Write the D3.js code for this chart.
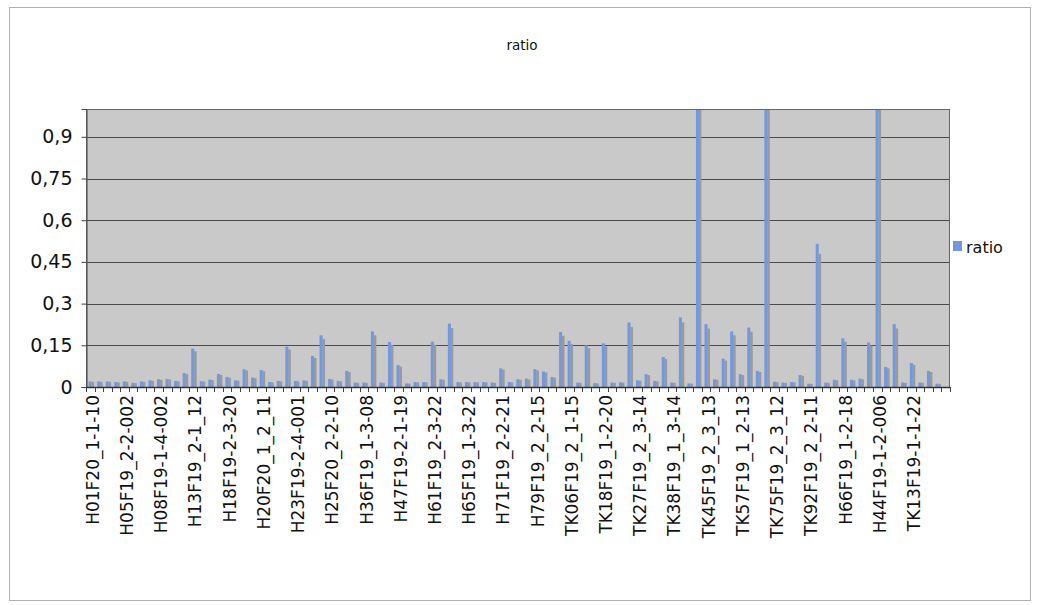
<!DOCTYPE html>
<html><head><meta charset="utf-8">
<script src="https://cdn.jsdelivr.net/npm/d3@7"></script>
<style>body{margin:0;background:#fff}svg{display:block}</style>
</head><body>
<svg id="c" width="1039" height="605"></svg>
<script>
const chartTitle = "ratio";
const seriesName = "ratio";
const tickLabels = [
  "H01F20_1-1-10","H05F19_2-2-002","H08F19-1-4-002","H13F19_2-1_12","H18F19-2-3-20",
  "H20F20_1_2_11","H23F19-2-4-001","H25F20_2-2-10","H36F19_1-3-08","H47F19-2-1-19",
  "H61F19_2-3-22","H65F19_1-3-22","H71F19_2-2-21","H79F19_2_2-15","TK06F19_2_1-15",
  "TK18F19_1-2-20","TK27F19_2_3-14","TK38F19_1_3-14","TK45F19_2_3_13","TK57F19_1_2-13",
  "TK75F19_2_3_12","TK92F19_2_2-11","H66F19_1-2-18","H44F19-1-2-006","TK13F19-1-1-22"
];
const labelEvery = 4;
const ratio = [
  0.02,0.02,0.02,0.018,0.02,0.015,0.02,0.024,0.028,0.029,
  0.022,0.05,0.138,0.021,0.027,0.047,0.036,0.024,0.064,0.034,
  0.061,0.018,0.022,0.145,0.022,0.024,0.112,0.186,0.029,0.022,
  0.058,0.016,0.016,0.2,0.016,0.162,0.079,0.013,0.018,0.018,
  0.163,0.028,0.228,0.018,0.018,0.018,0.018,0.016,0.067,0.018,
  0.028,0.03,0.064,0.056,0.036,0.198,0.166,0.016,0.15,0.014,
  0.157,0.016,0.017,0.232,0.024,0.046,0.022,0.108,0.016,0.25,
  0.013,1.0,0.226,0.028,0.102,0.2,0.046,0.214,0.058,1.0,
  0.019,0.016,0.018,0.043,0.012,0.515,0.016,0.026,0.175,0.026,
  0.03,0.16,1.0,0.072,0.226,0.016,0.086,0.016,0.058,0.012,
  0
];
const yTicks = [0,0.15,0.3,0.45,0.6,0.75,0.9];
const yMax = 1;

const font = "'DejaVu Sans', Verdana, sans-serif";
const m = {left:86, top:109, right:950, bottom:387};
const svg = d3.select("#c");

svg.append("rect").attr("x",9.5).attr("y",7.5).attr("width",1021).attr("height",593)
  .attr("fill","#fff").attr("stroke","#b0b0b0");

const x = d3.scaleBand().domain(d3.range(ratio.length)).range([m.left,m.right]).padding(0);
const y = d3.scaleLinear().domain([0,yMax]).range([m.bottom,m.top]);

svg.append("rect").attr("x",m.left).attr("y",m.top).attr("width",m.right-m.left)
  .attr("height",m.bottom-m.top).attr("fill","#c9c9c9");

svg.append("g").selectAll("line").data(yTicks.filter(d=>d>0)).join("line")
  .attr("x1",m.left).attr("x2",m.right)
  .attr("y1",d=>Math.round(y(d))+0.5).attr("y2",d=>Math.round(y(d))+0.5)
  .attr("stroke","#4a4a4a").attr("stroke-width",1.2);

const bw = x.bandwidth();
const clip = v => Math.min(v, yMax);
const shadowVal = v => v >= yMax ? yMax : v*0.93;

svg.append("g").selectAll("rect").data(ratio).join("rect")
  .attr("x",(d,i)=>x(i)+bw*0.64).attr("width",bw*0.3)
  .attr("y",d=>y(shadowVal(d))).attr("height",d=>y(0)-y(shadowVal(d)))
  .attr("fill","#9a9a9a");

svg.append("g").selectAll("rect").data(ratio).join("rect")
  .attr("x",(d,i)=>x(i)+bw*0.3).attr("width",bw*0.36)
  .attr("y",d=>y(clip(d))).attr("height",d=>y(0)-y(clip(d)))
  .attr("fill","#7299e0");

// plot border
svg.append("rect").attr("x",m.left+0.5).attr("y",m.top+0.5).attr("width",m.right-m.left-1)
  .attr("height",m.bottom-m.top).attr("fill","none").attr("stroke","#666");

// y axis
const ya = svg.append("g").attr("transform",`translate(${m.left+0.5},0)`)
  .call(d3.axisLeft(y).tickValues(yTicks).tickSize(5).tickPadding(9)
    .tickFormat(d=>String(d).replace(".",",")));
ya.select(".domain").attr("stroke","#444");
ya.selectAll(".tick line").attr("stroke","#444");
ya.selectAll("text").attr("font-family",font).attr("font-size",19).attr("fill","#111");

// x axis boundary ticks
svg.append("g").selectAll("line").data(d3.range(ratio.length+1)).join("line")
  .attr("x1",i=>Math.round(i<ratio.length?x(i):m.right)+0.5)
  .attr("x2",i=>Math.round(i<ratio.length?x(i):m.right)+0.5)
  .attr("y1",m.bottom).attr("y2",m.bottom+5).attr("stroke","#444");
svg.append("line").attr("x1",m.left).attr("x2",m.right).attr("y1",m.bottom+0.5).attr("y2",m.bottom+0.5)
  .attr("stroke","#333").attr("stroke-width",1.5);

// x labels
const xa = svg.append("g").attr("transform",`translate(0,${m.bottom})`)
  .call(d3.axisBottom(x).tickValues(d3.range(0,ratio.length,labelEvery)).tickSize(0)
    .tickFormat(i=>tickLabels[i/labelEvery]));
xa.select(".domain").remove();
xa.selectAll("text").attr("transform","rotate(-90)").attr("text-anchor","end")
  .attr("x",-8).attr("y",0).attr("dy","0.5em")
  .attr("font-family",font).attr("font-size",17).attr("fill","#111");

// title
svg.append("text").attr("x",522).attr("y",50).attr("text-anchor","middle")
  .attr("font-family",font).attr("font-size",13.5).attr("fill","#111").text(chartTitle);

// legend
svg.append("rect").attr("x",953).attr("y",241).attr("width",9).attr("height",10).attr("fill","#7299e0");
svg.append("text").attr("x",966).attr("y",253).attr("font-family",font).attr("font-size",16)
  .attr("fill","#111").text(seriesName);
</script>
</body></html>
